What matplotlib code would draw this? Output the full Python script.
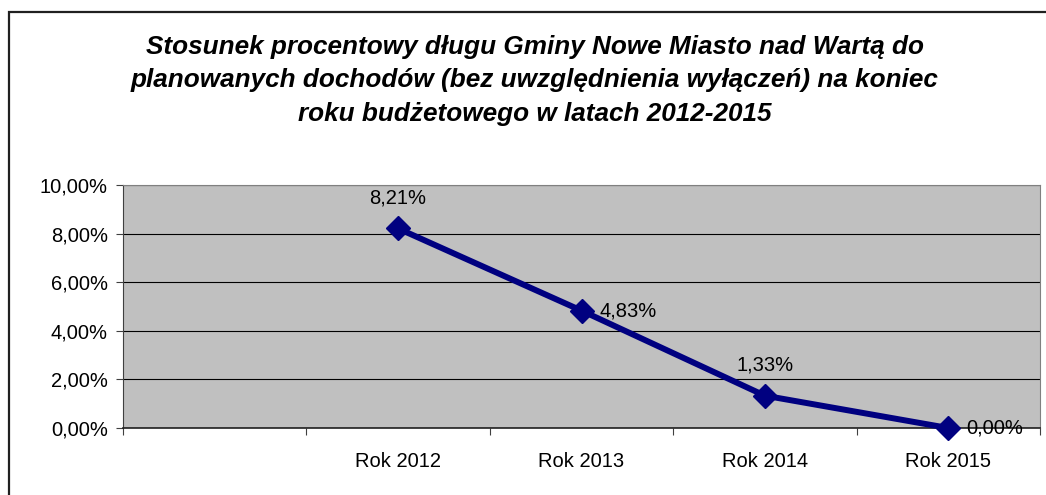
import numpy as np
import matplotlib
matplotlib.use('Agg')
import matplotlib.pyplot as plt
import matplotlib.patches as mpatches
from matplotlib.ticker import FuncFormatter

plt.rcParams['font.family'] = ['Liberation Sans', 'DejaVu Sans']

# Data
categories = ['', 'Rok 2012', 'Rok 2013', 'Rok 2014', 'Rok 2015']
years = ['Rok 2012', 'Rok 2013', 'Rok 2014', 'Rok 2015']
debt_ratio = [8.21, 4.83, 1.33, 0.00]
label_side = ['top', 'right', 'top', 'right']
y_ticks = [0, 2, 4, 6, 8, 10]

title = ('Stosunek procentowy długu Gminy Nowe Miasto nad Wartą do\n'
         'planowanych dochodów (bez uwzględnienia wyłączeń) na koniec\n'
         'roku budżetowego w latach 2012-2015')


def pl_percent(v, pos=None):
    return f"{v:.2f}".replace('.', ',') + '%'


def main():
    fig = plt.figure(figsize=(10.46, 4.95), dpi=100)
    ax = fig.add_axes([123 / 1046, 1 - 428 / 495, (1040 - 123) / 1046, (428 - 185) / 495])

    # outer chart border (only left and top visible in the crop)
    fig.patches.append(mpatches.Rectangle((8.5 / 1046, -0.1), 1.2, 1 - 11.5 / 495 + 0.1,
                                          transform=fig.transFigure, fill=False,
                                          edgecolor='#202020', linewidth=1.6))

    ax.set_facecolor('#c0c0c0')
    x_pos = [categories.index(y) for y in years]
    ax.plot(x_pos, debt_ratio, color='#000080', linewidth=4.3, marker='D',
            markersize=12.5, zorder=5, clip_on=False)

    for x, v, side in zip(x_pos, debt_ratio, label_side):
        if side == 'top':
            ax.annotate(pl_percent(v), (x, v), xytext=(0, 15), textcoords='offset points',
                        ha='center', va='bottom', fontsize=14.5, zorder=6)
        else:
            ax.annotate(pl_percent(v), (x, v), xytext=(13, 0), textcoords='offset points',
                        ha='left', va='center', fontsize=14.5, zorder=6)

    ax.set_xlim(-0.5, len(categories) - 0.5)
    ax.set_ylim(0, 10)
    ax.set_yticks(y_ticks)
    ax.yaxis.set_major_formatter(FuncFormatter(pl_percent))
    ax.grid(axis='y', color='black', linewidth=0.8)
    ax.set_axisbelow(True)

    ax.set_xticks(np.arange(-0.5, len(categories)), labels=[])
    ax.set_xticks(np.arange(len(categories)), labels=categories, minor=True)
    ax.tick_params(axis='x', which='major', length=5, color='#404040', direction='out')
    ax.tick_params(axis='x', which='minor', length=0, pad=17, labelsize=14.5)
    ax.tick_params(axis='y', length=5, color='#404040', labelsize=14.5, pad=6)

    ax.spines['left'].set_color('#404040')
    ax.spines['bottom'].set_color('#202020')
    ax.spines['bottom'].set_linewidth(1.2)
    ax.spines['top'].set_color('#808080')
    ax.spines['right'].set_color('#808080')

    fig.text(535 / 1046, 1 - 35 / 495, title, ha='center', va='top', fontsize=18.8,
             fontweight='bold', fontstyle='italic', linespacing=1.5)

    fig.savefig('out.png', dpi=100)


if __name__ == "__main__":
    main()
